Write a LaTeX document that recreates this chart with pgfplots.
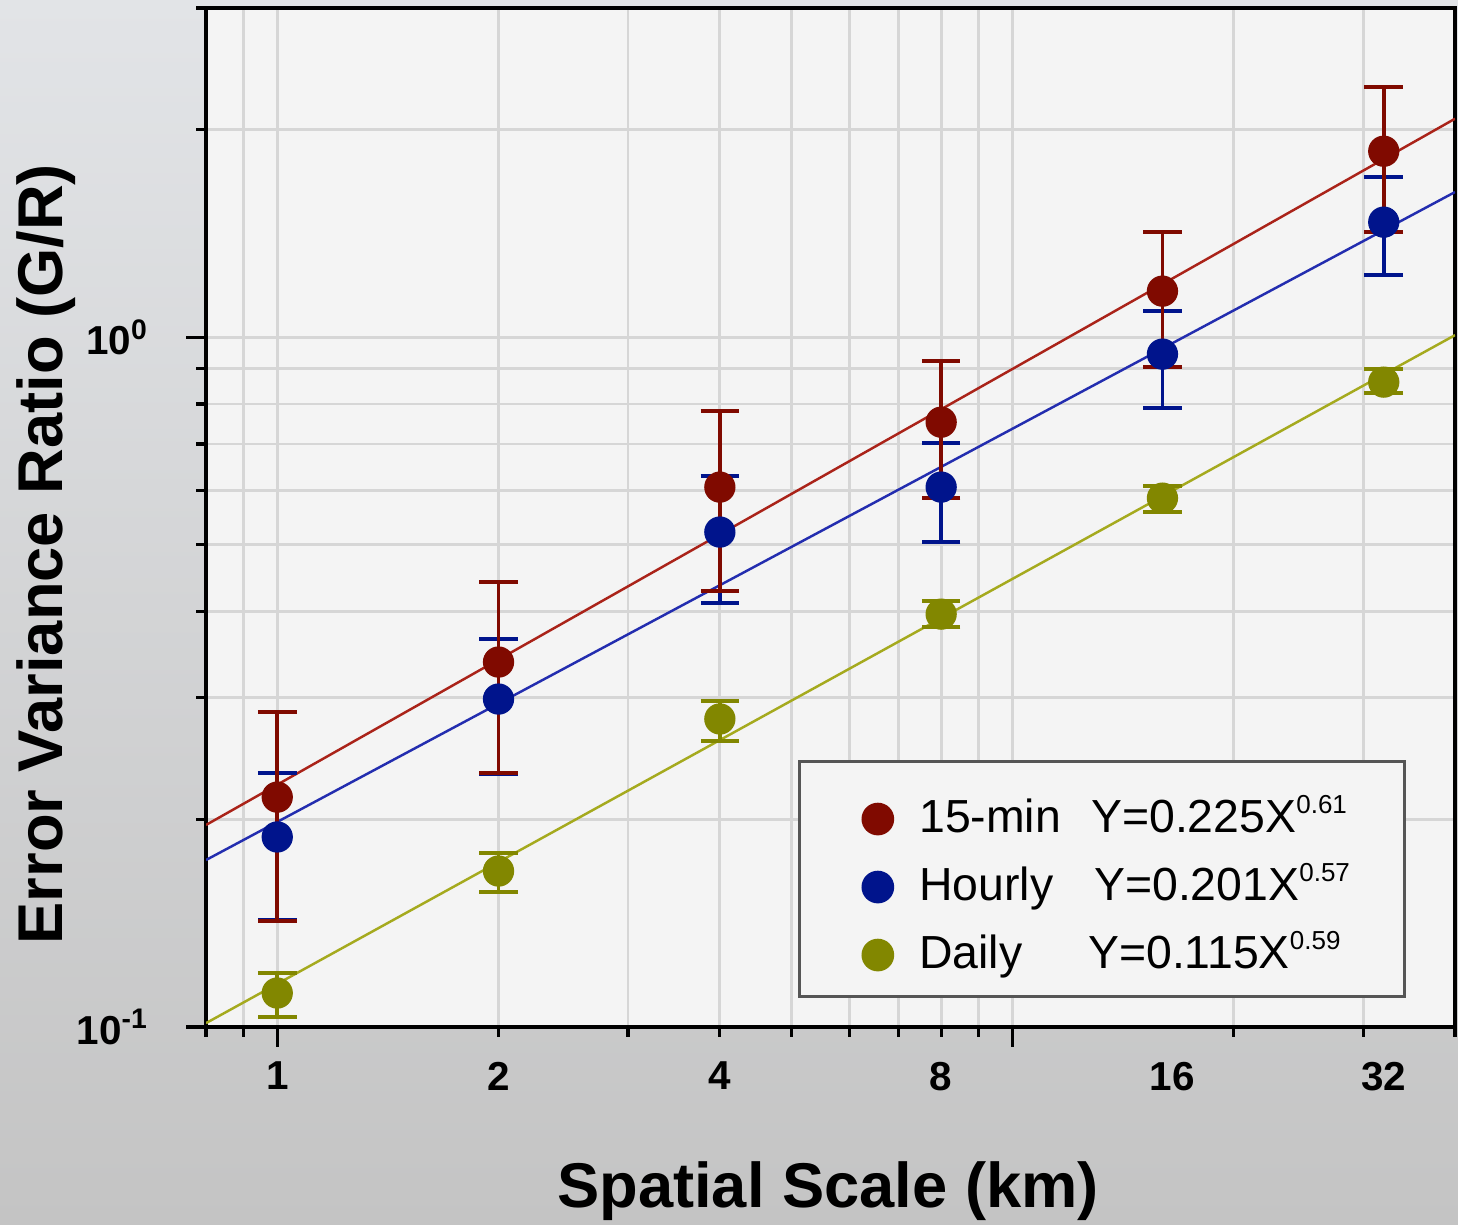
\documentclass[border=0pt]{standalone}
\usepackage{pgfplots}
\usepackage{pgfplotstable}
\pgfplotsset{compat=1.18}
\usepackage{fontspec}
\setmainfont{Liberation Sans}
\definecolor{cred}{RGB}{128,10,0}
\definecolor{credl}{RGB}{170,35,25}
\definecolor{cblue}{RGB}{0,20,140}
\definecolor{cbluel}{RGB}{35,45,175}
\definecolor{colive}{RGB}{130,135,0}
\definecolor{colivel}{RGB}{165,170,30}
\definecolor{plotbg}{RGB}{244,244,244}
\definecolor{gridc}{RGB}{214,214,214}
\definecolor{bgtop}{RGB}{226,228,231}
\definecolor{bgbot}{RGB}{196,196,196}
\definecolor{legframe}{RGB}{85,85,85}

\pgfplotstableread{
x  y      ep     em
1  0.2154 0.0707 0.0730
2  0.3381 0.1034 0.1047
4  0.6062 0.1748 0.1780
8  0.7530 0.1701 0.1687
16 1.1659 0.2536 0.2611
32 1.8600 0.4430 0.4405
}\redtab
\pgfplotstableread{
x  y      ep     em
1  0.1886 0.0448 0.0457
2  0.2988 0.0662 0.0662
4  0.5217 0.1072 0.1102
8  0.6062 0.0960 0.1016
16 0.9449 0.1457 0.1560
32 1.4678 0.2382 0.2377
}\bluetab
\pgfplotstableread{
x  y      ep     em
1  0.1120 0.0078 0.0086
2  0.1683 0.0104 0.0114
4  0.2796 0.0173 0.0198
8  0.3968 0.0175 0.0168
16 0.5843 0.0239 0.0266
32 0.8606 0.0383 0.0312
}\olivetab

\pgfplotsset{
  legimg/.style={legend image code/.code={\path (-0.77cm,0cm) (0.40cm,0cm); \draw[##1] plot coordinates {(0cm,-0.08cm)};}},
  ebar/.style={error bars/.cd, y dir=both, y explicit,
    error bar style={line width=1.1pt, #1},
    error mark options={rotate=90, mark size=5.5pt, line width=1.1pt, #1}},
}

\begin{document}
\begin{tikzpicture}
\shade[top color=bgtop, bottom color=bgbot] (0,0) rectangle (14.58,12.25);
\useasboundingbox (0,0) rectangle (14.58,12.25);
\begin{axis}[
  at={(2.06cm,1.98cm)}, anchor=south west,
  scale only axis, width=12.49cm, height=10.19cm,
  xmode=log, ymode=log,
  xmin=0.8, xmax=40, ymin=0.1, ymax=3,
  axis background/.style={fill=plotbg},
  xtick={1,10}, xticklabels={,},
  minor xtick={0.8,0.9,2,3,4,5,6,7,8,9,20,30,40},
  ytick={0.1,1}, yticklabels={10\textsuperscript{-1},10\textsuperscript{0}},
  minor ytick={0.2,0.3,0.4,0.5,0.6,0.7,0.8,0.9,2,3},
  grid=both,
  major grid style={gridc, line width=0.8pt},
  minor grid style={gridc, line width=0.8pt},
  tick align=outside, tick pos=left,
  major tick length=0.2cm, minor tick length=0.1cm,
  every tick/.style={black, line width=0.9pt},
  axis line style={black, line width=1pt},
  tick label style={font=\fontsize{11.5}{13}\selectfont\bfseries},
  yticklabel style={xshift=-0.25cm},
  extra x ticks={1,2,4,8,16.5,32},
  extra x tick labels={1,2,4,8,16,32},
  extra x tick style={major tick length=0pt, grid=none, xticklabel style={yshift=-0.225cm}},
  xlabel={Spatial Scale (km)}, ylabel={Error Variance Ratio (G/R)},
  label style={font=\fontsize{18}{20}\selectfont\bfseries},
  xlabel style={at={(axis description cs:0.498,-0.161)}, anchor=center},
  ylabel style={at={(axis description cs:-0.128,0.464)}, anchor=center},
  legend style={at={(axis description cs:0.474,0.0285)}, anchor=south west,
    draw=legframe, line width=0.8pt, fill=plotbg, inner xsep=0pt, inner ysep=0.155cm,
    column sep=0pt, row sep=0pt,
    font=\fontsize{13.2}{15}\selectfont,
    nodes={inner sep=0pt, text height=0.555cm, text depth=0.125cm},
    cells={anchor=west}},
]
\addplot[credl, line width=0.7pt, forget plot] coordinates {(0.8,0.1963) (40,2.073)};
\addplot[cbluel, line width=0.7pt, forget plot] coordinates {(0.8,0.1746) (40,1.623)};
\addplot[colivel, line width=0.7pt, forget plot] coordinates {(0.8,0.1013) (40,1.0067)};

\addplot[only marks, mark=*, mark size=4.25pt, color=colive, forget plot, ebar=colive]
  table[x=x, y=y, y error plus=ep, y error minus=em] {\olivetab};
\addplot[only marks, mark=*, mark size=4.25pt, color=cblue, forget plot, ebar=cblue]
  table[x=x, y=y, y error plus=ep, y error minus=em] {\bluetab};
\addplot[only marks, mark=*, mark size=4.25pt, color=cred, forget plot, ebar=cred]
  table[x=x, y=y, y error plus=ep, y error minus=em] {\redtab};

\addlegendimage{only marks, mark=*, mark size=4.25pt, color=cred, legimg}
\addlegendentry{\makebox[4.85cm][l]{\makebox[1.72cm][l]{15-min}Y=0.225X\raisebox{0.42em}{\fontsize{7.4}{8}\selectfont 0.61}}}
\addlegendimage{only marks, mark=*, mark size=4.25pt, color=cblue, legimg}
\addlegendentry{\makebox[4.85cm][l]{\makebox[1.75cm][l]{Hourly}Y=0.201X\raisebox{0.42em}{\fontsize{7.4}{8}\selectfont 0.57}}}
\addlegendimage{only marks, mark=*, mark size=4.25pt, color=colive, legimg}
\addlegendentry{\makebox[4.85cm][l]{\makebox[1.69cm][l]{Daily}Y=0.115X\raisebox{0.42em}{\fontsize{7.4}{8}\selectfont 0.59}}}
\end{axis}
\end{tikzpicture}
\end{document}
